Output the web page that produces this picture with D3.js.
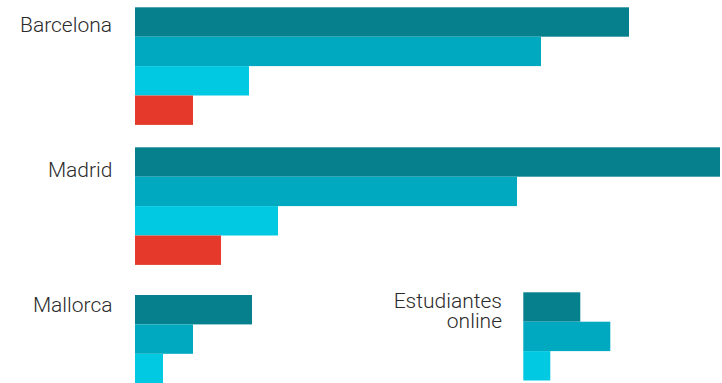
<!DOCTYPE html>
<html>
<head>
<meta charset="utf-8">
<script src="https://cdn.jsdelivr.net/npm/d3@7"></script>
<style>
  body { margin: 0; background: #fff; }
  text { font-family: Roboto, "Noto Sans", sans-serif; font-weight: 300; fill: #2b2b2b; }
</style>
</head>
<body>
<div id="chart-area"></div>
<script>
var width = 722;
var height = 383;

// data
var categories = ["Barcelona", "Madrid", "Mallorca", "Estudiantes online"];
var series = ["serie1", "serie2", "serie3", "serie4"];
var barcelona = [494, 406, 114, 58];
var madrid = [585, 382, 143, 86];
var mallorca = [117, 58, 28];
var online = [57, 87, 27];
var values = [barcelona, madrid, mallorca, online];

var colors = ["#06808c", "#00a9bf", "#00c9e1", "#e5392b"];

// where each group sits on the page
var layout = [
    {barX: 135, top: 7.3, labelX: 112, labelY: 31.5},
    {barX: 135, top: 147.3, labelX: 112.5, labelY: 176.5},
    {barX: 135, top: 295, labelX: 112.5, labelY: 311.5},
    {barX: 523.3, top: 292.3, labelX: 502, labelY: 307.7}
];

var svg = d3.select("#chart-area")
    .append("svg")
        .attr("width", width)
        .attr("height", height);

var x = d3.scaleLinear().domain([0, 585]).range([0, 585]);
var y = d3.scaleBand().domain(series).range([0, 4 * 29.4]);
var color = d3.scaleOrdinal().domain(series).range(colors);

var groups = svg.selectAll("g.group")
    .data(categories)
    .enter().append("g")
        .attr("class", "group")
        .attr("transform", (d, i) => "translate(" + layout[i].barX + ", " + layout[i].top + ")");

groups.selectAll("rect")
    .data((d, i) => values[i].map((v, j) => ({key: series[j], value: v})))
    .enter().append("rect")
        .attr("x", 0)
        .attr("y", (d) => y(d.key))
        .attr("width", (d) => x(d.value))
        .attr("height", y.bandwidth())
        .attr("fill", (d) => color(d.key));

// labels, the online one split over two lines
categories.forEach((d, i) => {
    var lines = d === "Estudiantes online" ? ["Estudiantes", "online"] : [d];
    lines.forEach((line, k) => {
        svg.append("text")
            .attr("class", "label")
            .attr("text-anchor", "end")
            .attr("font-size", "21px")
            .attr("x", layout[i].labelX)
            .attr("y", layout[i].labelY + k * 20.6)
            .text(line);
    });
});
</script>
</body>
</html>
